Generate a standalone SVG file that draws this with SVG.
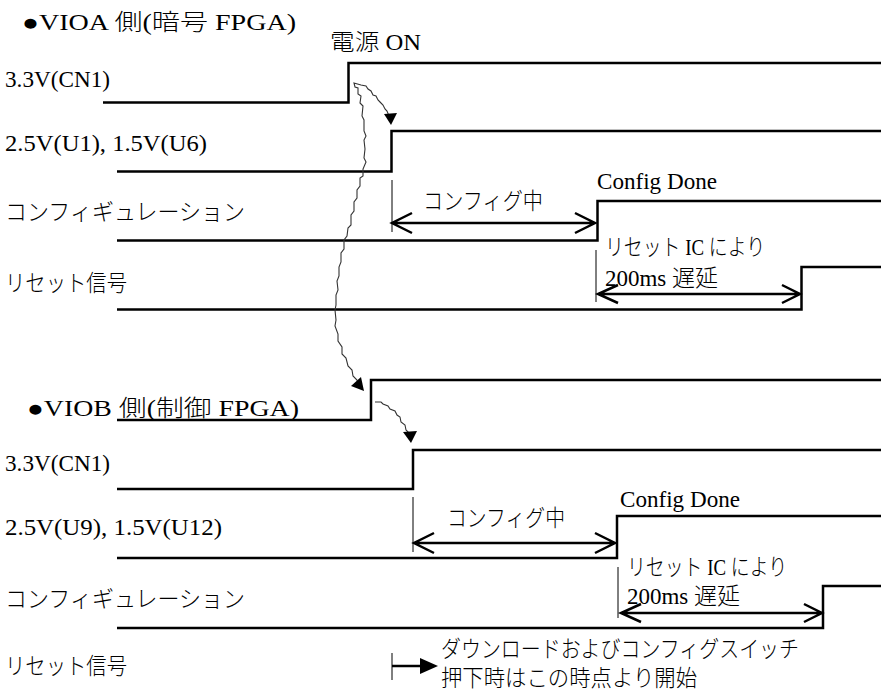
<svg xmlns="http://www.w3.org/2000/svg" width="881" height="693" viewBox="0 0 881 693">
<defs>
<style>
text{font-family:"Liberation Serif","Noto Sans CJK JP",serif;font-size:23px;font-weight:300;fill:#000}
.sig{fill:none;stroke:#000;stroke-width:2.5}
.thin{fill:none;stroke:#000;stroke-width:1}
.dim{fill:none;stroke:#000;stroke-width:2.5}
.wave{fill:none;stroke:#333;stroke-width:1.1}
.ah{fill:#000}
</style>
</defs>
<rect width="881" height="693" fill="#fff"/>
<g id="labels">
<text x="22" y="30" textLength="274" lengthAdjust="spacingAndGlyphs">●VIOA 側(暗号 FPGA)</text>
<text x="330" y="50" textLength="91" lengthAdjust="spacingAndGlyphs">電源 ON</text>
<text x="5" y="87" textLength="105" lengthAdjust="spacingAndGlyphs">3.3V(CN1)</text>
<text x="5" y="151" textLength="202" lengthAdjust="spacingAndGlyphs">2.5V(U1), 1.5V(U6)</text>
<text x="5" y="220" textLength="240" lengthAdjust="spacingAndGlyphs">コンフィギュレーション</text>
<text x="5" y="291" textLength="122" lengthAdjust="spacingAndGlyphs">リセット信号</text>
<text x="27" y="416" textLength="272" lengthAdjust="spacingAndGlyphs">●VIOB 側(制御 FPGA)</text>
<text x="5" y="471" textLength="105" lengthAdjust="spacingAndGlyphs">3.3V(CN1)</text>
<text x="5" y="535" textLength="217" lengthAdjust="spacingAndGlyphs">2.5V(U9), 1.5V(U12)</text>
<text x="5" y="607" textLength="240" lengthAdjust="spacingAndGlyphs">コンフィギュレーション</text>
<text x="5" y="674" textLength="122" lengthAdjust="spacingAndGlyphs">リセット信号</text>
</g>
<g id="vioa-sig1"><path class="sig" d="M103 102.5H348.5V63H881"/></g>
<g id="vioa-sig2"><path class="sig" d="M117 171.5H391.5V131H881"/></g>
<g id="vioa-sig3">
<path class="sig" d="M117 240.5H597.5V201H881"/>
<text x="597" y="189" textLength="120" lengthAdjust="spacingAndGlyphs">Config Done</text>
</g>
<g id="vioa-config">
<line class="thin" x1="392" y1="180" x2="392" y2="232"/>
<text x="423" y="209" textLength="120" lengthAdjust="spacingAndGlyphs">コンフィグ中</text>
</g>
<g id="vioa-sig4">
<path class="sig" d="M117 309.5H801.5V267H881"/>
<line class="thin" x1="596" y1="250" x2="596" y2="302"/>
<text x="605" y="255" textLength="160" lengthAdjust="spacingAndGlyphs">リセット IC により</text>
<text x="605" y="286" textLength="113" lengthAdjust="spacingAndGlyphs">200ms 遅延</text>
</g>
<g id="viob-sig1"><path class="sig" d="M117 420H371V380H881"/></g>
<g id="viob-sig2"><path class="sig" d="M117 489H413V450H881"/></g>
<g id="viob-sig3">
<path class="sig" d="M117 558H617V516H881"/>
<text x="620" y="507" textLength="120" lengthAdjust="spacingAndGlyphs">Config Done</text>
</g>
<g id="viob-config">
<line class="thin" x1="413" y1="497" x2="413" y2="552"/>
<text x="447" y="526" textLength="118" lengthAdjust="spacingAndGlyphs">コンフィグ中</text>
</g>
<g id="viob-sig4">
<path class="sig" d="M117 628H823V586H881"/>
<line class="thin" x1="618" y1="567" x2="618" y2="618"/>
<text x="627" y="575" textLength="160" lengthAdjust="spacingAndGlyphs">リセット IC により</text>
<text x="627" y="604" textLength="113" lengthAdjust="spacingAndGlyphs">200ms 遅延</text>
</g>
<g id="note">
<text x="441" y="657" textLength="358" lengthAdjust="spacingAndGlyphs">ダウンロードおよびコンフィグスイッチ</text>
<text x="441" y="686" textLength="256" lengthAdjust="spacingAndGlyphs">押下時はこの時点より開始</text>
</g>
<g id="connectors">
<path class="dim" d="M392 223H595M412 213L392 223L412 233M575 213L595 223L575 233"/>
<path class="dim" d="M598 294H800M618 285L598 294L618 303M782 285L800 294L782 303"/>
<path class="dim" d="M414 543H615M434 533L414 543L434 553M595 533L615 543L595 553"/>
<path class="dim" d="M621 613H822M641 604L621 613L641 622M804 604L822 613L804 622"/>
<line class="thin" x1="392" y1="653" x2="392" y2="680"/>
<line class="dim" x1="392" y1="666" x2="422" y2="666"/>
<polygon class="ah" points="420,658 438,666 420,674"/>
<path class="wave" d="M389 116L387 111L385 109L383 105L380 102L378 100L376 96L373 95L371 91L368 89L366 86L361 85L354 83L355 87L358 88L358 94L361 96L360 103L363 106L362 116L364 120L364 131L366 136L364 140L365 149L364 158L366 162L363 169L363 176L360 178L360 186L357 190L357 198L354 202L354 211L351 215L351 225L348 228L347 236L344 240L344 249L341 253L341 262L339 267L339 276L337 281L338 290L336 295L336 305L335 310L336 320L335 326L338 334L338 341L342 347L342 354L346 358L348 366L352 370L353 376L357 380L358 383"/>
<polygon class="ah" points="384,114 397,113 391,125"/>
<polygon class="ah" points="351,386 361,377 364,391"/>
<path class="wave" d="M375 402L381 402L383 404L388 406L390 409L395 411L397 415L400 417L401 422L405 425L406 430L409 433L409 435"/>
<polygon class="ah" points="403,432 417,431 411,443"/>
</g>
</svg>
